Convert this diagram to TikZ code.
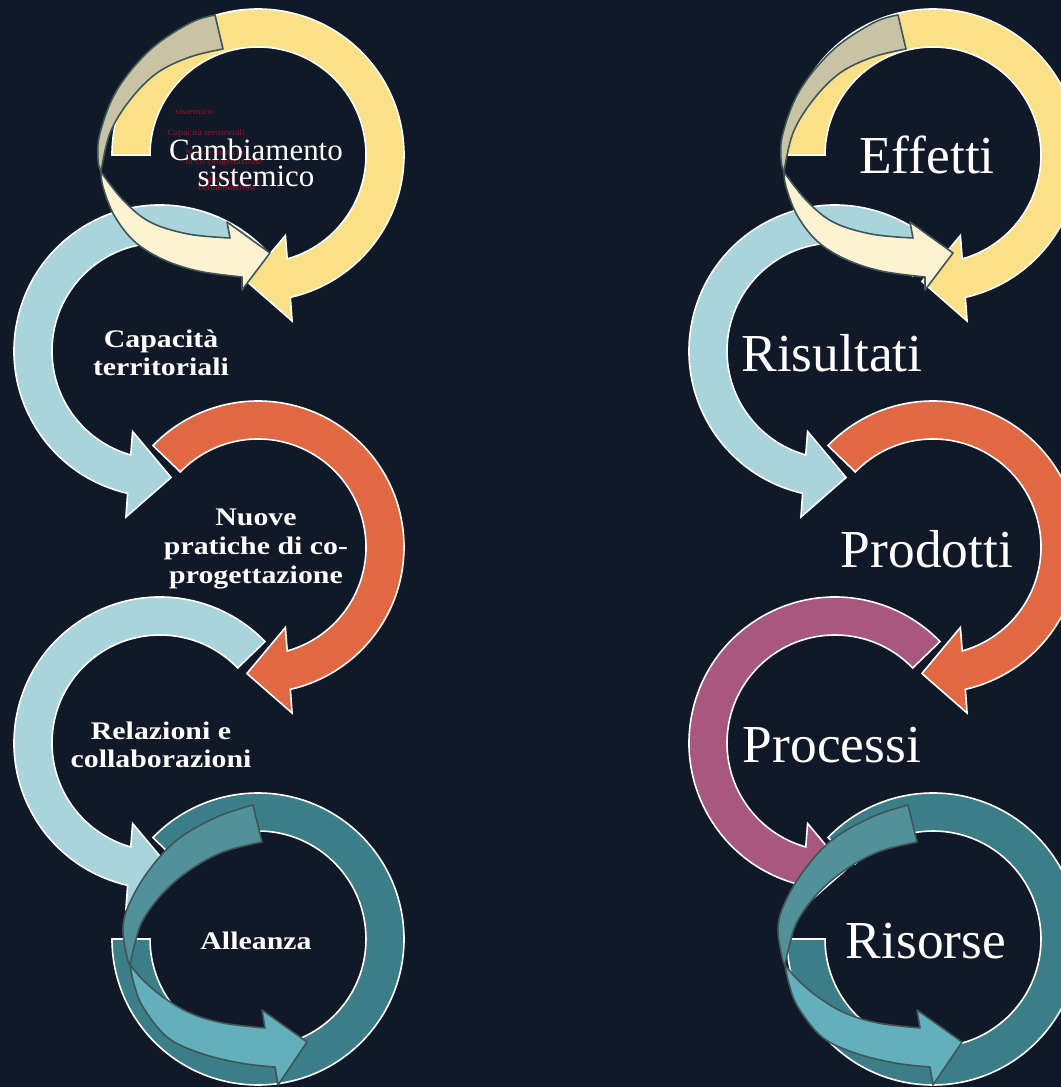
\documentclass[tikz,border=0pt]{standalone}
\usepackage{fontspec}
\setmainfont{Liberation Serif}
\newfontfamily\wideserif[FakeStretch=1.18]{Liberation Serif}
\usepackage{tikz}
\tikzset{>=latex}
\definecolor{night}{HTML}{111827}
\definecolor{sand}{HTML}{FAE087}
\definecolor{stone}{HTML}{C9C3A5}
\definecolor{cream}{HTML}{FDF3D3}
\definecolor{powder}{HTML}{A9D4DC}
\definecolor{coral}{HTML}{E06943}
\definecolor{plum}{HTML}{A8587F}
\definecolor{deepteal}{HTML}{3B7E88}
\definecolor{midteal}{HTML}{53919A}
\definecolor{paleteal}{HTML}{63AFBB}
\definecolor{slate}{HTML}{3E565A}
\definecolor{ghostred}{HTML}{961423}
\tikzset{
    ring/.style={draw=white, line width=0.4mm, line join=miter},
    ribbon/.style={draw=slate, line width=0.4mm, line join=round},
    biglabel/.style={text=white, font=\fontsize{38}{40}\selectfont},
    smalllabel/.style={text=white, align=center, font=\wideserif\bfseries\fontsize{18}{20.3}\selectfont},
    ghost/.style={text=ghostred, align=left, anchor=west, inner sep=0pt, font=\wideserif\fontsize{6}{5.7}\selectfont},
}
\newcommand{\cwarrow}[4]{
    \draw[ring, fill=#4, shift={#1}] (#2:146) arc[start angle=#2, end angle=#3-1.2, radius=146]
        -- (#3-2.4:169.5) -- (#3-19:127) -- (#3+4.8:85) -- (#3+1.7:108)
        arc[start angle=#3+1.7, end angle=#2, radius=108] -- cycle;
}
\newcommand{\ccwarrow}[4]{
    \draw[ring, fill=#4, shift={#1}] (#2:108) arc[start angle=#2, end angle=#3-1.7, radius=108]
        -- (#3-4.8:85) -- (#3+19:127) -- (#3+2.4:169.5) -- (#3+1.2:146)
        arc[start angle=#3+1.2, end angle=#2, radius=146] -- cycle;
}
\newcommand{\openring}[1]{
    \draw[ring, fill=deepteal, shift={#1}] (136:146) arc[start angle=136, end angle=-180, radius=146]
        -- (-180:108) arc[start angle=-180, end angle=136, radius=108] -- cycle;
}
\newcommand{\sandribbon}[1]{
    \begin{scope}[shift={#1}]
        \draw[ribbon, fill=stone] plot[smooth, tension=0.6] coordinates {(-43,140) (-68,132) (-108,105) (-141,65) (-158,22) (-160,-5) (-157,-17)}
            -- plot[smooth, tension=0.6] coordinates {(-157,-17) (-148,22) (-128,55) (-101,82) (-68,98) (-35,106)} -- cycle;
        \draw[ribbon, fill=cream] plot[smooth, tension=0.6] coordinates {(-157,-17) (-155,-32) (-144,-60) (-124,-86) (-96,-104) (-60,-116) (-16,-122)}
            -- (-16,-135) -- (12,-98) -- (-31,-67) -- (-28,-83)
            -- plot[smooth, tension=0.6] coordinates {(-28,-83) (-70,-79) (-108,-67) (-135,-45) (-157,-17)} -- cycle;
    \end{scope}
}
\newcommand{\tealribbon}[1]{
    \begin{scope}[shift={#1}]
        \draw[ribbon, fill=midteal] plot[smooth, tension=0.6] coordinates {(-5,134) (-41,122) (-81,99) (-111,66) (-130,32) (-135,9) (-131,-18) (-128,-26)}
            -- plot[smooth, tension=0.6] coordinates {(-128,-26) (-123,-4) (-115,19) (-95,46) (-68,69) (-35,87) (4,97)} -- cycle;
        \draw[ribbon, fill=paleteal] plot[smooth, tension=0.6] coordinates {(-128,-26) (-124,-45) (-115,-68) (-91,-98) (-58,-114) (-18,-124) (17,-128)}
            -- (20,-146) -- (49,-103) -- (4,-71) -- (7,-89)
            -- plot[smooth, tension=0.6] coordinates {(7,-89) (-35,-84) (-68,-74) (-95,-58) (-115,-41) (-128,-26)} -- cycle;
    \end{scope}
}

\begin{document}
\begin{tikzpicture}[x=0.25mm, y=0.25mm]
    \useasboundingbox (0,0) rectangle (1061,1087);
    \clip (0,0) rectangle (1061,1087);
    \fill[night] (0,0) rectangle (1061,1087);

    \cwarrow{(258,932)}{180}{-76}{sand}
    \ccwarrow{(160,736)}{44}{256}{powder}
    \cwarrow{(258,540)}{136}{-76}{coral}
    \ccwarrow{(160,344)}{44}{256}{powder}
    \openring{(258,148)}
    \sandribbon{(258,932)}
    \tealribbon{(258,148)}

    \cwarrow{(933,932)}{180}{-76}{sand}
    \ccwarrow{(835,736)}{44}{256}{powder}
    \cwarrow{(933,540)}{136}{-76}{coral}
    \ccwarrow{(835,344)}{44}{256}{plum}
    \openring{(933,148)}
    \sandribbon{(941,932)}
    \tealribbon{(913,148)}

    \node[ghost] (ghost1) at (175,975) {sistemico};
    \node[ghost] (ghost2) at (167,954) {Capacità territoriali};
    \node[ghost] (ghost3) at (185,929) {Nuove pratiche\\di co-progettazione};
    \node[ghost] (ghost4) at (198,903) {Relazioni e\\collaborazione};

    \node[text=white, align=center, font=\fontsize{22}{18.5}\selectfont] (cambiamento) at (256,924) {Cambiamento\\sistemico};
    \node[smalllabel] (capacita) at (161,734) {Capacità\\territoriali};
    \node[smalllabel] (nuove) at (256,538) {Nuove\\pratiche di co-\\progettazione};
    \node[smalllabel] (relazioni) at (161,342) {Relazioni e\\collaborazioni};
    \node[smalllabel] (alleanza) at (256,146) {Alleanza};

    \node[biglabel] (effetti) at (927,932) {Effetti};
    \node[biglabel] (risultati) at (832,734) {Risultati};
    \node[biglabel] (prodotti) at (927,538) {Prodotti};
    \node[biglabel] (processi) at (832,342) {Processi};
    \node[biglabel] (risorse) at (926,146) {Risorse};
\end{tikzpicture}
\end{document}
